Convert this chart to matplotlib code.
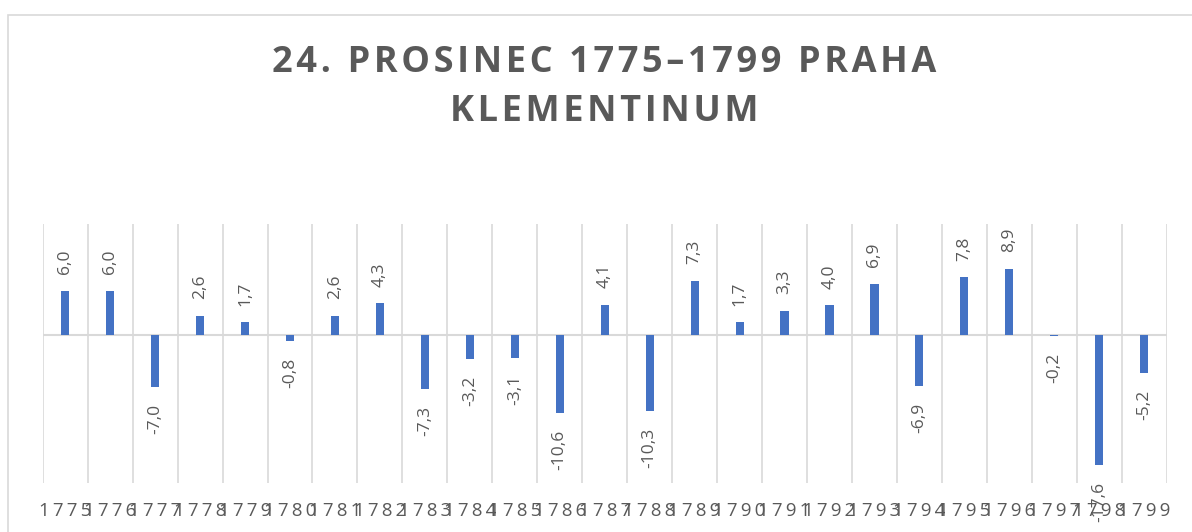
import matplotlib
matplotlib.use("Agg")
import matplotlib.pyplot as plt
import numpy as np

years = [str(y) for y in range(1775, 1800)]
values = [6.0, 6.0, -7.0, 2.6, 1.7, -0.8, 2.6, 4.3, -7.3, -3.2, -3.1, -10.6, 4.1,
          -10.3, 7.3, 1.7, 3.3, 4.0, 6.9, -6.9, 7.8, 8.9, -0.2, -17.6, -5.2]
title_lines = ["24. PROSINEC 1775\u20131799 PRAHA", "KLEMENTINUM"]

GRAY = "#595959"
BLUE = "#4472C4"
GRID = "#D9D9D9"
FAM = ["Open Sans", "DejaVu Sans"]

def spaced(s, sp):
    return sp.join(s)

W, H = 1192, 532
fig = plt.figure(figsize=(W / 100, H / 100), dpi=100)

# chart border
fig.patches.append(plt.Rectangle((8 / W, -0.05), 1.2, (H - 15) / H + 0.05,
                                 transform=fig.transFigure, fill=False,
                                 edgecolor=GRID, linewidth=1.2))

left, right = 42.7 / W, 1166.7 / W
bottom, top = (H - 483) / H, (H - 224) / H
ax = fig.add_axes([left, bottom, right - left, top - bottom])
x = np.arange(len(years))
ax.bar(x, values, width=0.18, color=BLUE, zorder=3)
ax.set_xlim(-0.5, len(years) - 0.5)
ax.set_ylim(-20, 15)
for v in np.arange(-0.5, len(years), 1.0):
    ax.axvline(v, color=GRID, linewidth=1.2, zorder=1)
ax.axhline(0, color=GRID, linewidth=1.5, zorder=2)
for s in ax.spines.values():
    s.set_visible(False)
ax.set_yticks([])
ax.set_xticks(x)
ax.set_xticklabels([spaced(y, "\u2009") for y in years], family=FAM, fontsize=13.5, color=GRAY)
ax.tick_params(axis="x", length=0, pad=14)

for xi, v in zip(x, values):
    lab = f"{v:.1f}".replace(".", ",")
    if v >= 0:
        ax.annotate(lab, (xi, v), xytext=(0, 12), textcoords="offset points",
                    rotation=90, ha="center", va="bottom", fontsize=12.5,
                    color=GRAY, family=FAM, zorder=4, annotation_clip=False)
    else:
        ax.annotate(lab, (xi, v), xytext=(0, -12), textcoords="offset points",
                    rotation=90, ha="center", va="top", fontsize=12.5,
                    color=GRAY, family=FAM, zorder=4, annotation_clip=False)

fig.text(604 / W, 1 - 63 / H, spaced(title_lines[0], "\u200a"), ha="center", va="center",
         fontsize=26, fontweight="bold", color=GRAY, family=FAM)
fig.text(604 / W, 1 - 112 / H, spaced(title_lines[1], "\u200a"), ha="center", va="center",
         fontsize=26, fontweight="bold", color=GRAY, family=FAM)

fig.savefig("out.png", dpi=100)
